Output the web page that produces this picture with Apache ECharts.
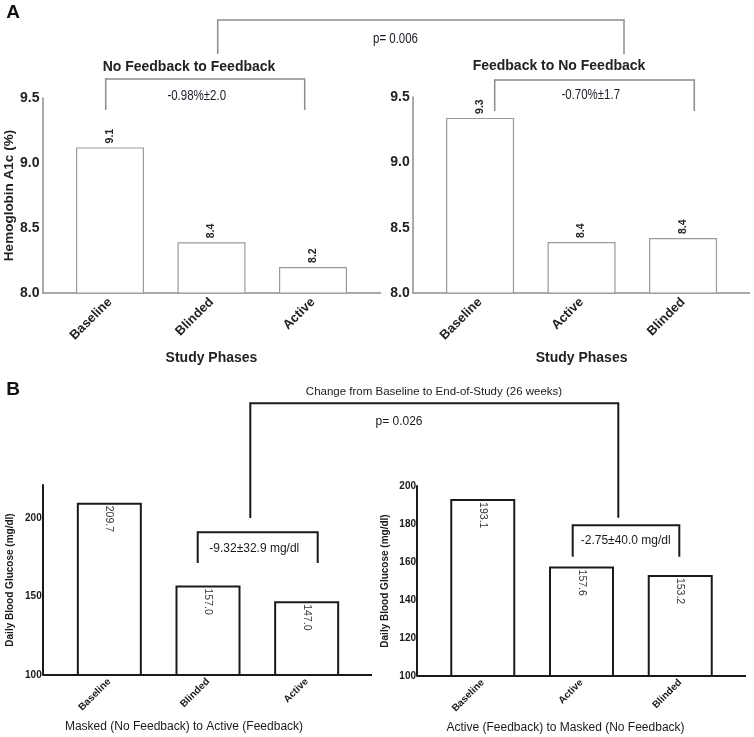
<!DOCTYPE html>
<html>
<head>
<meta charset="utf-8">
<script src="https://cdn.jsdelivr.net/npm/echarts@6/dist/echarts.min.js"></script>
<style>
  html, body { margin: 0; padding: 0; background: #fff; }
  #chart { width: 754px; height: 737px; }
</style>
</head>
<body>
<div id="chart"></div>
<script>
// panel A: hemoglobin A1c by phase
var hbPhasesNoFb = ['Baseline', 'Blinded', 'Active'];
var hbValuesNoFb = [9.12, 8.39, 8.2];
var hbPhasesFb = ['Baseline', 'Active', 'Blinded'];
var hbValuesFb = [9.34, 8.39, 8.42];

// panel B: daily blood glucose by phase
var bgPhasesMasked = ['Baseline', 'Blinded', 'Active'];
var bgValuesMasked = [209.7, 157.0, 147.0];
var bgPhasesActive = ['Baseline', 'Active', 'Blinded'];
var bgValuesActive = [193.1, 157.6, 153.2];

var FONT = '"Liberation Sans", Arial, sans-serif';
var GRAY = '#8c8c8c';
var INK = '#1a1a1a';

function txt(x, y, text, size, weight, color, sx) {
  return {
    type: 'text', x: x, y: y, scaleX: sx || 1,
    style: {
      x: 0, y: 0, text: text, fill: color || INK,
      font: (weight || 'normal') + ' ' + size + 'px ' + FONT,
      textAlign: 'center', textVerticalAlign: 'middle'
    }
  };
}

function bracket(pts, color, width) {
  return {
    type: 'polyline',
    shape: { points: pts },
    style: { stroke: color, lineWidth: width, fill: null }
  };
}

function hline(x1, x2, y, color, width) {
  return {
    type: 'line',
    shape: { x1: x1, y1: y, x2: x2, y2: y },
    style: { stroke: color, lineWidth: width }
  };
}

function catAxis(idx, cats, size, margin, color, name, gap) {
  return {
    type: 'category', gridIndex: idx, data: cats,
    axisLine: { show: false }, axisTick: { show: false },
    axisLabel: { rotate: 45, margin: margin, fontSize: size, fontWeight: 'bold', color: color, fontFamily: FONT, interval: 0 },
    name: name, nameLocation: 'middle', nameGap: gap,
    nameTextStyle: { fontSize: 14, fontWeight: 'bold', color: color, fontFamily: FONT }
  };
}

function valAxis(idx, min, max, interval, offset, opts) {
  return {
    type: 'value', gridIndex: idx, min: min, max: max, interval: interval, offset: offset,
    splitLine: { show: false }, axisTick: { show: false },
    axisLine: { show: true, lineStyle: { color: opts.lineColor, width: opts.lineWidth } },
    axisLabel: {
      margin: opts.margin, fontSize: opts.size, fontWeight: 'bold', color: opts.color, fontFamily: FONT,
      showMaxLabel: opts.showMax, formatter: opts.fmt
    },
    name: opts.name || '', nameLocation: 'middle', nameGap: opts.nameGap,
    nameTextStyle: { fontSize: opts.nameSize, fontWeight: 'bold', color: opts.color, fontFamily: FONT }
  };
}

function hbSeries(idx, values) {
  return {
    type: 'bar', xAxisIndex: idx, yAxisIndex: idx, data: values, barWidth: 68,
    itemStyle: { color: '#fff', borderColor: '#9a9a9a', borderWidth: 1.2 },
    label: {
      show: true, position: 'top', rotate: 90, align: 'left', verticalAlign: 'middle', distance: 4,
      fontSize: 10.5, fontWeight: 'bold', color: '#222', fontFamily: FONT,
      formatter: function(p) { return p.value.toFixed(1); }
    }
  };
}

function bgSeries(idx, values) {
  return {
    type: 'bar', xAxisIndex: idx, yAxisIndex: idx, data: values, barWidth: 65,
    itemStyle: { color: '#fff', borderColor: INK, borderWidth: 2 },
    label: {
      show: true, position: 'insideTop', rotate: -90, align: 'left', verticalAlign: 'middle', distance: 3,
      fontSize: 10.5, color: '#333', fontFamily: FONT,
      formatter: function(p) { return p.value.toFixed(1); }
    }
  };
}

var hbFmt = function(v) { return v.toFixed(1); };
var hbOpts = { lineColor: GRAY, lineWidth: 1.5, margin: 3, size: 14, color: '#222', fmt: hbFmt, showMax: true };

var option = {
  animation: false,
  backgroundColor: '#fff',
  grid: [
    { left: 59.25, top: 98, width: 304.5, height: 195 },
    { left: 429.3, top: 97, width: 304.5, height: 196 },
    { left: 60, top: 485, width: 296, height: 190 },
    { left: 433.4, top: 486, width: 296.2, height: 190 }
  ],
  xAxis: [
    catAxis(0, hbPhasesNoFb, 13, 7, '#222', 'Study Phases', 58),
    catAxis(1, hbPhasesFb, 13, 7, '#222', 'Study Phases', 58),
    catAxis(2, bgPhasesMasked, 10, 5, INK, '', 0),
    catAxis(3, bgPhasesActive, 10, 5, INK, '', 0)
  ],
  yAxis: [
    valAxis(0, 8, 9.5, 0.5, 16.75, Object.assign({ name: 'Hemoglobin A1c (%)', nameGap: 25, nameSize: 13.5 }, hbOpts)),
    valAxis(1, 8, 9.5, 0.5, 16.6, Object.assign({ nameGap: 25, nameSize: 13.5 }, hbOpts)),
    valAxis(2, 100, 221, 50, 17.3, { lineColor: INK, lineWidth: 2, margin: 1, size: 10, color: INK, showMax: false,
      name: 'Daily Blood Glucose (mg/dl)', nameGap: 27, nameSize: 10 }),
    valAxis(3, 100, 200, 20, 16.4, { lineColor: INK, lineWidth: 2, margin: 1, size: 10, color: INK, showMax: true,
      name: 'Daily Blood Glucose (mg/dl)', nameGap: 27, nameSize: 10 })
  ],
  series: [
    hbSeries(0, hbValuesNoFb),
    hbSeries(1, hbValuesFb),
    bgSeries(2, bgValuesMasked),
    bgSeries(3, bgValuesActive)
  ],
  graphic: [
    // baselines run a bit past the plotted categories
    hline(42.5, 381, 293, GRAY, 1.5),
    hline(412.7, 750, 293, GRAY, 1.5),
    hline(42.7, 372, 675, INK, 2),
    hline(417, 746, 676, INK, 2),

    txt(13, 13, 'A', 19, 'bold', '#111'),
    txt(13, 390, 'B', 19, 'bold', '#111'),

    txt(189, 67, 'No Feedback to Feedback', 14, 'bold', '#222'),
    txt(559, 66, 'Feedback to No Feedback', 14, 'bold', '#222'),
    bracket([[105.7, 110], [105.7, 79], [304.7, 79], [304.7, 110]], GRAY, 1.5),
    bracket([[494.7, 111], [494.7, 80], [694.3, 80], [694.3, 111]], GRAY, 1.5),
    bracket([[217.7, 54], [217.7, 20], [624, 20], [624, 54]], GRAY, 1.5),
    txt(196.7, 96, '-0.98%\u00b12.0', 14, 'normal', '#1c1c2a', 0.82),
    txt(590.7, 95, '-0.70%\u00b11.7', 14, 'normal', '#1c1c2a', 0.82),
    txt(395.5, 39, 'p= 0.006', 14, 'normal', '#1c1c2a', 0.82),

    bracket([[197.7, 563], [197.7, 532.3], [317.7, 532.3], [317.7, 563]], INK, 2),
    bracket([[572.7, 556.7], [572.7, 525.3], [679.3, 525.3], [679.3, 556.7]], INK, 2),
    bracket([[250.3, 518], [250.3, 403.3], [618.3, 403.3], [618.3, 517.7]], INK, 2),
    txt(254.3, 548.3, '-9.32\u00b132.9 mg/dl', 12, 'normal', INK),
    txt(625.7, 541, '-2.75\u00b140.0 mg/dl', 12, 'normal', INK),
    txt(434, 391.7, 'Change from Baseline to End-of-Study (26 weeks)', 11.5, 'normal', INK),
    txt(399, 421.7, 'p= 0.026', 12, 'normal', INK),
    txt(184, 727, 'Masked (No Feedback) to Active (Feedback)', 12, 'normal', INK),
    txt(565.5, 727.7, 'Active (Feedback) to Masked (No Feedback)', 12, 'normal', INK)
  ]
};

function plot(id, opt) {
  var dom = document.getElementById(id);
  var myChart = echarts.init(dom);
  if (opt && typeof opt === 'object') {
    myChart.setOption(opt, true);
  }
}

plot('chart', option);
</script>
</body>
</html>
